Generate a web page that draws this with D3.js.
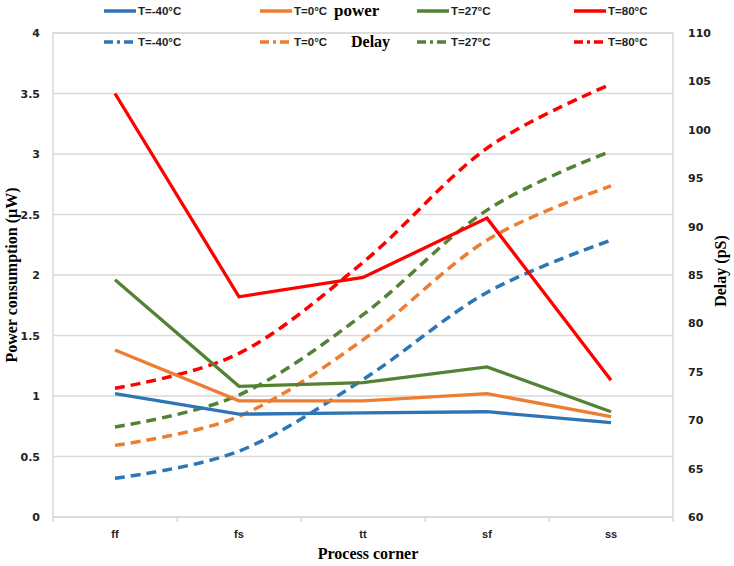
<!DOCTYPE html>
<html>
<head>
<meta charset="utf-8">
<script src="https://cdn.jsdelivr.net/npm/d3@7"></script>
<style>
  body { margin: 0; background: #fff; }
  svg { display: block; }
</style>
</head>
<body>
<div id="chart"></div>
<script>
// data
var corners = ["ff", "fs", "tt", "sf", "ss"];
var temps = ["T=-40°C", "T=0°C", "T=27°C", "T=80°C"];
var colors = ["#2e75b6", "#ed7d31", "#548235", "#ff0000"];

var powerM40 = [1.02, 0.85, 0.86, 0.87, 0.78];
var power0 = [1.38, 0.96, 0.96, 1.02, 0.83];
var power27 = [1.96, 1.08, 1.11, 1.24, 0.87];
var power80 = [3.50, 1.82, 1.98, 2.47, 1.13];

var delayM40 = [64.0, 66.8, 74.2, 83.2, 88.6];
var delay0 = [67.4, 70.4, 78.3, 88.6, 94.2];
var delay27 = [69.3, 72.6, 80.9, 91.7, 97.8];
var delay80 = [73.3, 76.9, 86.3, 98.1, 104.7];

var powerTicks = [0, 0.5, 1, 1.5, 2, 2.5, 3, 3.5, 4];
var delayTicks = [60, 65, 70, 75, 80, 85, 90, 95, 100, 105, 110];

var powerSeries = [powerM40, power0, power27, power80];
var delaySeries = [delayM40, delay0, delay27, delay80];

var svgWidth = 734;
var svgHeight = 566;
var margin = { top: 33, right: 61, bottom: 49, left: 53 };
var width = svgWidth - margin.left - margin.right;
var height = svgHeight - margin.top - margin.bottom;

var svg = d3.select("#chart")
    .append("svg")
    .attr("width", svgWidth)
    .attr("height", svgHeight);

var chartGroup = svg.append("g")
    .attr("transform", `translate(${margin.left}, ${margin.top})`);

// scales
var xScale = d3.scaleBand().domain(corners).range([0, width]);
var yPower = d3.scaleLinear().domain([0, 4]).range([height, 0]);
var yDelay = d3.scaleLinear().domain([60, 110]).range([height, 0]);
var xMid = d => xScale(d) + xScale.bandwidth() / 2;

// gridlines
chartGroup.append("g")
    .selectAll("line")
    .data(powerTicks)
    .enter()
    .append("line")
    .attr("x1", 0)
    .attr("x2", width)
    .attr("y1", d => yPower(d))
    .attr("y2", d => yPower(d))
    .attr("stroke", "#d9d9d9")
    .attr("stroke-width", 1.3);

// border
chartGroup.append("rect")
    .attr("width", width)
    .attr("height", height)
    .attr("fill", "none")
    .attr("stroke", "#d9d9d9")
    .attr("stroke-width", 1.5);

// axes
var leftAxis = d3.axisLeft(yPower).tickValues(powerTicks).tickSize(0).tickPadding(13)
    .tickFormat(d => d);
var rightAxis = d3.axisRight(yDelay).tickValues(delayTicks).tickSize(0).tickPadding(15);
var bottomAxis = d3.axisBottom(xScale).tickSize(0).tickPadding(13);

var gl = chartGroup.append("g").call(leftAxis);
var gr = chartGroup.append("g").attr("transform", `translate(${width}, 0)`).call(rightAxis);
var gb = chartGroup.append("g").attr("transform", `translate(0, ${height})`).call(bottomAxis);

[gl, gr].forEach(function (g) {
    g.select(".domain").remove();
    g.selectAll("text")
        .attr("font-family", "DejaVu Sans")
        .attr("font-weight", "bold")
        .attr("font-size", "11px")
        .attr("fill", "#222");
});
gb.select(".domain").remove();
gb.selectAll("text")
    .attr("font-family", "Liberation Sans")
    .attr("font-weight", "bold")
    .attr("font-size", "11px")
    .attr("fill", "#222");

// category boundary ticks
chartGroup.append("g")
    .selectAll("line")
    .data(corners.concat(["end"]))
    .enter()
    .append("line")
    .attr("x1", (d, i) => i * xScale.bandwidth())
    .attr("x2", (d, i) => i * xScale.bandwidth())
    .attr("y1", height)
    .attr("y2", height + 5)
    .attr("stroke", "#d9d9d9")
    .attr("stroke-width", 1.5);

// lines
var straight = d3.line()
    .x((d, i) => xMid(corners[i]))
    .y(d => yPower(d));

var smooth = d3.line()
    .x((d, i) => xMid(corners[i]))
    .y(d => yDelay(d))
    .curve(d3.curveCatmullRom.alpha(0));

delaySeries.forEach(function (s, k) {
    chartGroup.append("path")
        .datum(s)
        .attr("d", smooth)
        .attr("fill", "none")
        .attr("stroke", colors[k])
        .attr("stroke-width", 3.5)
        .attr("stroke-dasharray", "10,6");
});

powerSeries.forEach(function (s, k) {
    chartGroup.append("path")
        .datum(s)
        .attr("d", straight)
        .attr("fill", "none")
        .attr("stroke", colors[k])
        .attr("stroke-width", 3.3);
});

// legend
var legendX = [104, 260, 417, 574];
var legendRows = [{ y: 11, dash: null }, { y: 42, dash: "9,4,3,4" }];

legendRows.forEach(function (row) {
    temps.forEach(function (t, k) {
        svg.append("line")
            .attr("x1", legendX[k])
            .attr("x2", legendX[k] + 32)
            .attr("y1", row.y)
            .attr("y2", row.y)
            .attr("stroke", colors[k])
            .attr("stroke-width", 3.5)
            .attr("stroke-dasharray", row.dash);
        svg.append("text")
            .attr("x", legendX[k] + 34)
            .attr("y", row.y + 4)
            .attr("font-family", "Liberation Sans")
            .attr("font-weight", "bold")
            .attr("font-size", "11.5px")
            .attr("fill", "#222")
            .text(t);
    });
});

svg.append("text")
    .attr("x", 334)
    .attr("y", 16)
    .attr("font-family", "Liberation Serif")
    .attr("font-weight", "bold")
    .attr("font-size", "17px")
    .text("power");

svg.append("text")
    .attr("x", 351)
    .attr("y", 47)
    .attr("font-family", "Liberation Serif")
    .attr("font-weight", "bold")
    .attr("font-size", "16px")
    .text("Delay");

// axis titles
svg.append("text")
    .attr("transform", `translate(17, ${margin.top + height / 2}) rotate(-90)`)
    .attr("text-anchor", "middle")
    .attr("font-family", "Liberation Serif")
    .attr("font-weight", "bold")
    .attr("font-size", "16px")
    .text("Power consumption (µW)");

svg.append("text")
    .attr("transform", `translate(726, ${margin.top + height / 2 - 4}) rotate(-90)`)
    .attr("text-anchor", "middle")
    .attr("font-family", "Liberation Serif")
    .attr("font-weight", "bold")
    .attr("font-size", "16px")
    .text("Delay (pS)");

svg.append("text")
    .attr("x", margin.left + width / 2 + 5)
    .attr("y", 559)
    .attr("text-anchor", "middle")
    .attr("font-family", "Liberation Serif")
    .attr("font-weight", "bold")
    .attr("font-size", "16px")
    .text("Process corner");
</script>
</body>
</html>
